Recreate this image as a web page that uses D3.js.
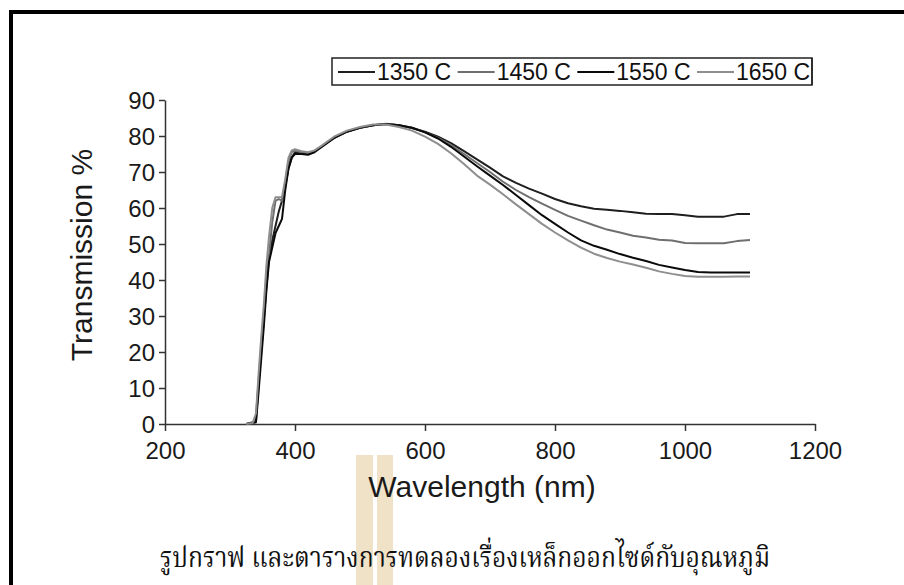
<!DOCTYPE html>
<html><head><meta charset="utf-8">
<script src="https://cdn.jsdelivr.net/npm/d3@7"></script>
<style>html,body{margin:0;padding:0;background:#fff;}svg{display:block;}</style>
</head><body>
<svg id="c" width="904" height="585"></svg>
<script>
const wavelengths = [325,335,340,344,348,352,356,360,365,370,375,380,385,390,395,400,410,420,430,440,460,480,500,520,540,560,580,600,620,640,660,680,700,720,740,760,780,800,820,840,860,880,900,920,940,960,980,1000,1020,1040,1060,1080,1100];
const t1350 = [0,0.5,1,11,20,29,38,46,51,55,59,62,66,71,74,75.5,75.3,75.2,75.8,77,79.5,81.2,82.3,83,83.3,83,82.2,81.2,79.8,78,75.8,73.5,71.2,68.8,67,65.4,64,62.5,61.3,60.5,59.8,59.5,59.2,58.8,58.4,58.3,58.3,58,57.6,57.6,57.6,58.3,58.3];
const t1450 = [0,0.3,2,12,22,30,40,47,56,62,62.5,62,67,73,75.5,76,75.5,75.3,75.8,77,79.5,81.3,82.3,83,83.4,83,82.3,81,79.5,77.5,75,72.5,70,67.3,65,63,61.2,59.5,57.8,56.5,55.2,54,53.2,52.3,51.8,51.2,51,50.3,50.2,50.2,50.2,50.8,51.1];
const t1550 = [0,0.3,0.5,9,18,27,37,45,49,53,55,57,65,71,74,75,75,74.8,75.5,76.8,79.4,81.2,82.3,83,83.3,83,82.3,81,79.3,77,74.3,71.6,69,66.4,63.6,60.8,58,55.6,53.2,51,49.5,48.4,47.2,46.2,45.3,44.2,43.5,42.8,42.2,42.1,42.1,42.1,42.1];
const t1650 = [0,0.3,3,14,24,33,44,52,60,63,63,63,68,74,76,76.3,75.8,75.5,76,77.2,79.8,81.5,82.5,83.2,83.2,82.5,81.5,79.8,77.8,75.2,72.2,69,66.5,63.8,61,58.3,55.6,53.2,51,49,47.3,46.1,45.1,44.3,43.4,42.4,41.7,41.1,40.9,40.9,40.9,41,41];
const seriesNames = ["1350 C","1450 C","1550 C","1650 C"];
const seriesColors = ["#1e1e1e","#6f6f6f","#0a0a0a","#8e8e8e"];
const xTicks = [200,400,600,800,1000,1200];
const yTicks = [0,10,20,30,40,50,60,70,80,90];
const xTitle = "Wavelength (nm)";
const yTitle = "Transmission %";
const caption = "รูปกราฟ และตารางการทดลองเรื่องเหล็กออกไซด์กับอุณหภูมิ";

const svg = d3.select("#c");
const font = "'Liberation Sans', Arial, sans-serif";

svg.append("path").attr("d","M11,585 V12 H904").attr("fill","none").attr("stroke","#000").attr("stroke-width",4);

const wm = svg.append("g").attr("fill","#efe2c6");
wm.append("rect").attr("x",356).attr("y",455).attr("width",17).attr("height",130);
wm.append("rect").attr("x",377).attr("y",455).attr("width",16).attr("height",130);

const x = d3.scaleLinear().domain([200,1200]).range([165,815]);
const y = d3.scaleLinear().domain([0,90]).range([424,100]);

const xAxis = svg.append("g").attr("transform","translate(0,424)")
  .call(d3.axisBottom(x).tickValues(xTicks).tickSize(7).tickSizeOuter(0).tickFormat(d3.format("d")));
const yAxis = svg.append("g").attr("transform","translate(165,0)")
  .call(d3.axisLeft(y).tickValues(yTicks).tickSize(6).tickSizeOuter(0).tickFormat(d3.format("d")));
[xAxis,yAxis].forEach(a=>{
  a.select(".domain").attr("stroke","#333").attr("stroke-width",1.5);
  a.selectAll(".tick line").attr("stroke","#333").attr("stroke-width",1.5);
  a.selectAll(".tick text").attr("font-family",font).attr("font-size",24).attr("fill","#1a1a1a");
});
xAxis.selectAll(".tick text").attr("dy",null).attr("y",35);
yAxis.selectAll(".tick text").attr("x",-10).attr("dy","0.36em");

svg.append("text").attr("x",482).attr("y",497).attr("text-anchor","middle")
  .attr("font-family",font).attr("font-size",30).attr("fill","#1a1a1a").text(xTitle);
svg.append("text").attr("transform","translate(92,255) rotate(-90)").attr("text-anchor","middle")
  .attr("font-family",font).attr("font-size",30).attr("fill","#1a1a1a").text(yTitle);

const all = [t1350,t1450,t1550,t1650];
const line = d3.line().x((d,i)=>x(wavelengths[i])).y(d=>y(d));
all.forEach((s,k)=>{
  svg.append("path").datum(s).attr("d",line).attr("fill","none")
    .attr("stroke",seriesColors[k]).attr("stroke-width",2).attr("stroke-linejoin","round");
});

const lg = svg.append("g");
lg.append("rect").attr("x",332).attr("y",58).attr("width",480).attr("height",27)
  .attr("fill","#fff").attr("stroke","#222").attr("stroke-width",1.5);
const lgX = d3.scalePoint().domain(seriesNames).range([338,697]);
seriesNames.forEach((n,k)=>{
  const x0 = lgX(n);
  lg.append("line").attr("x1",x0).attr("x2",x0+37).attr("y1",72).attr("y2",72)
    .attr("stroke",seriesColors[k]).attr("stroke-width",2);
  lg.append("text").attr("x",x0+39).attr("y",80).attr("font-family",font).attr("font-size",23)
    .attr("fill","#111").text(n);
});
lg.append("line").attr("x1",812).attr("x2",812).attr("y1",58).attr("y2",85).attr("stroke","#222").attr("stroke-width",1.5);

svg.append("text").attr("x",465).attr("y",567).attr("text-anchor","middle")
  .attr("font-family","'Norasi','Kinnari','Laksaman','Noto Serif Thai','Noto Sans Thai',serif").attr("font-size",28)
  .attr("textLength",610).attr("lengthAdjust","spacingAndGlyphs").attr("fill","#111").text(caption);
</script>
</body></html>
